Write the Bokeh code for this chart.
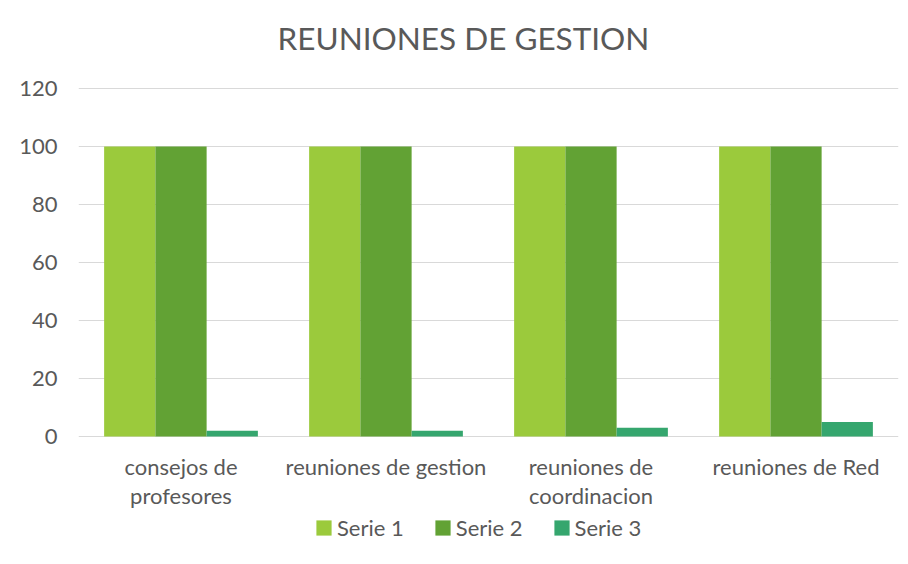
from bokeh.plotting import figure
from bokeh.models import ColumnDataSource, FactorRange, Range1d, FixedTicker, Legend, LegendItem, Label
from bokeh.transform import dodge
from bokeh.embed import file_html
from bokeh.resources import INLINE

title_text = "REUNIONES DE GESTION"
categories = ["consejos de profesores", "reuniones de gestion", "reuniones de coordinacion", "reuniones de Red"]
category_label_lines = [["consejos de", "profesores"], ["reuniones de gestion"], ["reuniones de", "coordinacion"], ["reuniones de Red"]]
serie1 = [100, 100, 100, 100]
serie2 = [100, 100, 100, 100]
serie3 = [2, 2, 3, 5]
series_names = ["Serie 1", "Serie 2", "Serie 3"]
colors = ["#9bca3c", "#62a234", "#35a66e"]
y_ticks = [0, 20, 40, 60, 80, 100, 120]

FONT = "Lato"
GRAY = "#595959"

# layout (pixels)
W, H = 900, 560
LEFT = 78
TOP_PX = 88              # pixel row of the value 120
ZERO_PX = 436            # pixel row of the value 0
Y_MAX = 120
px_per_unit = (ZERO_PX - TOP_PX) / Y_MAX
y_start = -(H - ZERO_PX) / px_per_unit   # room under the axis for labels + legend
y_end = Y_MAX + TOP_PX / px_per_unit      # room above for the title

src = ColumnDataSource(dict(cat=categories, s1=serie1, s2=serie2, s3=serie3))

p = figure(width=W, height=H, output_backend="svg", toolbar_location=None,
           x_range=FactorRange(*categories, range_padding=0),
           y_range=Range1d(y_start, y_end),
           min_border_left=LEFT, min_border_right=2, min_border_top=0, min_border_bottom=0)
p.title = None

renderers = []
for key, off, col in zip(["s1", "s2", "s3"], [-0.25, 0.0, 0.25], colors):
    r = p.vbar(x=dodge("cat", off, range=p.x_range), top=key, bottom=0, width=0.25, source=src,
               fill_color=col, line_color=None)
    renderers.append(r)

p.outline_line_color = None
p.xgrid.grid_line_color = None
p.ygrid.ticker = FixedTicker(ticks=y_ticks)
p.ygrid.grid_line_color = "#d9d9d9"
p.ygrid.grid_line_width = 1

p.yaxis.ticker = FixedTicker(ticks=y_ticks)
p.yaxis.axis_line_color = None
p.yaxis.major_tick_line_color = None
p.yaxis.minor_tick_line_color = None
p.yaxis.major_label_text_font = FONT
p.yaxis.major_label_text_font_size = "22px"
p.yaxis.major_label_text_color = GRAY
p.yaxis.major_label_standoff = 15

p.xaxis.visible = False

# chart title
p.add_layout(Label(x=463 - LEFT, y=H - 37, x_units="screen", y_units="screen", text=title_text,
                   text_align="center", text_baseline="alphabetic",
                   text_font=FONT, text_font_size="31.5px", text_color=GRAY))

# wrapped category labels
for i, lines in enumerate(category_label_lines):
    for j, line in enumerate(lines):
        p.add_layout(Label(x=i + 0.5, y=H - 466 - 29 * j, y_units="screen", text=line,
                           text_align="center", text_baseline="alphabetic",
                           text_font=FONT, text_font_size="22px", text_color=GRAY))

legend = Legend(items=[LegendItem(label=n, renderers=[r]) for n, r in zip(series_names, renderers)],
                orientation="horizontal", location=(236, 19))
legend.label_text_font = FONT
legend.label_text_font_size = "22px"
legend.label_text_color = GRAY
legend.glyph_width = 19
legend.glyph_height = 19
legend.spacing = 29
legend.label_standoff = 4
legend.border_line_color = None
legend.background_fill_alpha = 0
legend.padding = 0
legend.margin = 0
p.add_layout(legend, "center")

open("out.html", "w").write(file_html(p, INLINE))
